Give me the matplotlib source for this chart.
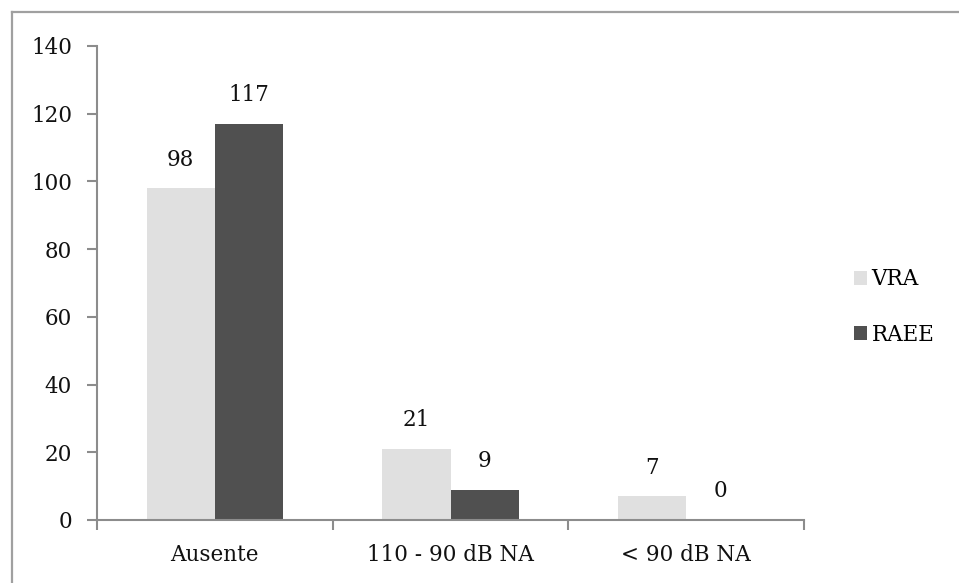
import matplotlib
matplotlib.use("Agg")

import matplotlib.pyplot as plt
from matplotlib.lines import Line2D
from matplotlib.patches import Patch
import numpy as np

plt.rcParams["font.family"] = ["DejaVu Serif"]

categories = ["Ausente", "110 - 90 dB NA", "< 90 dB NA"]
series = ["VRA", "RAEE"]
vra = [98, 21, 7]
raee = [117, 9, 0]

C_VRA = "#e0e0e0"
C_RAEE = "#505050"
C_AXIS = "#8c8c8c"
FS = 15.5

fig = plt.figure(figsize=(9.59, 5.83), dpi=100)
fig.patch.set_facecolor("white")

# outer frame: only top and left edges visible
fig.add_artist(Line2D([11.5 / 959, 11.5 / 959], [0, 1 - 11.5 / 583],
                      transform=fig.transFigure, color="#a0a0a0", lw=1.6))
fig.add_artist(Line2D([11.5 / 959, 1], [1 - 11.5 / 583, 1 - 11.5 / 583],
                      transform=fig.transFigure, color="#a0a0a0", lw=1.6))

# axes box in pixels: x 97..804, y 46..520
ax = fig.add_axes([97 / 959, 1 - 520 / 583, (804 - 97) / 959, (520 - 46) / 583])

x = np.arange(len(categories))
w = 0.289
b1 = ax.bar(x - w / 2, vra, w, color=C_VRA, label=series[0])
b2 = ax.bar(x + w / 2, raee, w, color=C_RAEE, label=series[1])

for bars, vals in ((b1, vra), (b2, raee)):
    for rect, v in zip(bars, vals):
        ax.text(rect.get_x() + rect.get_width() / 2, v + 5.2, str(v),
                ha="center", va="bottom", fontsize=FS, color="#111111")

ax.set_xlim(-0.5, len(categories) - 0.5)
ax.set_ylim(0, 140)
ax.set_yticks(range(0, 141, 20))
ax.set_xticks(np.arange(-0.5, len(categories), 1.0))
ax.set_xticklabels([])
ax.set_xticks(x, minor=True)
ax.set_xticklabels(categories, minor=True)

for s in ("top", "right"):
    ax.spines[s].set_visible(False)
for s in ("left", "bottom"):
    ax.spines[s].set_color(C_AXIS)
    ax.spines[s].set_linewidth(1.5)

ax.tick_params(axis="y", direction="out", length=7, width=1.5, color=C_AXIS,
               labelsize=FS, pad=11, labelcolor="#111111")
ax.tick_params(axis="x", which="major", direction="out", length=7, width=1.5,
               color=C_AXIS)
ax.tick_params(axis="x", which="minor", length=0, labelsize=FS, pad=17,
               labelcolor="#111111")

handles = [Patch(facecolor=C_VRA, label=series[0]),
           Patch(facecolor=C_RAEE, label=series[1])]
fig.legend(handles=handles, loc="center left", bbox_to_anchor=(835 / 959, 1 - 307 / 583),
           frameon=False, fontsize=FS, handlelength=0.6, handleheight=0.6,
           handletextpad=0.2, labelspacing=1.55)

fig.savefig("out.png", dpi=100, facecolor="white")
